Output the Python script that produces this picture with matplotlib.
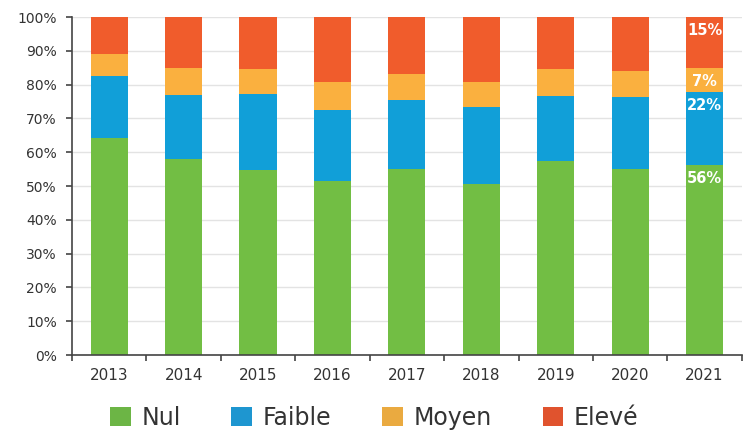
import matplotlib
matplotlib.use("Agg")
import matplotlib.pyplot as plt
from matplotlib.patches import Patch
from matplotlib.ticker import MultipleLocator, FuncFormatter
import numpy as np

plt.rcParams['font.family'] = ['DejaVu Sans']

years = ['2013', '2014', '2015', '2016', '2017', '2018', '2019', '2020', '2021']
nul    = [64.3, 57.9, 54.8, 51.4, 55.0, 50.6, 57.3, 54.9, 56.2]
faible = [18.2, 18.9, 22.3, 21.1, 20.5, 22.7, 19.3, 21.4, 21.7]
moyen  = [6.6, 8.0, 7.5, 8.3, 7.5, 7.6, 8.1, 7.7, 7.0]
eleve  = [10.9, 15.2, 15.4, 19.2, 17.0, 19.1, 15.3, 16.0, 15.1]
series_names = ['Nul', 'Faible', 'Moyen', 'Elevé']
labels_2021 = ['56%', '22%', '7%', '15%']

bar_colors = ['#72BE44', '#119FD8', '#FAB03F', '#F05C2C']
legend_colors = ['#6CB545', '#1E96D0', '#EAAA40', '#E0532E']

fig = plt.figure(figsize=(7.5, 4.3), dpi=100)
ax = fig.add_axes([0.096, 0.1744, 0.893, 0.786])

x = np.arange(len(years))
series = [nul, faible, moyen, eleve]
bottom = np.zeros(len(years))
for vals, col in zip(series, bar_colors):
    ax.bar(x, vals, bottom=bottom, width=0.5, color=col, zorder=2)
    bottom = bottom + np.array(vals)

# labels on last bar
last = len(years) - 1
cum = 0.0
for vals, lab in zip(series, labels_2021):
    cum += vals[last]
    ax.annotate(lab, xy=(x[last], cum), xytext=(0, -10), textcoords='offset points',
                ha='center', va='center', color='white', fontsize=10.5, fontweight='bold', zorder=3)

ax.set_xlim(-0.5, len(years) - 0.5)
ax.set_ylim(0, 100)
ax.yaxis.set_major_locator(MultipleLocator(10))
ax.yaxis.set_major_formatter(FuncFormatter(lambda v, p: f"{int(round(v))}%"))
ax.grid(axis='y', color='#e3e3e3', linewidth=1, zorder=0)
ax.set_axisbelow(True)

ax.set_xticks(x)
ax.set_xticklabels(years)
ax.set_xticks(np.arange(-0.5, len(years), 1.0), minor=True)
ax.tick_params(axis='x', which='major', length=0, pad=9, labelsize=11, labelcolor='#333333')
ax.tick_params(axis='x', which='minor', length=4, width=1.2, color='#444444', direction='out')
ax.tick_params(axis='y', length=4, width=1.2, color='#444444', pad=7, labelsize=10, labelcolor='#333333')

for s in ['top', 'right']:
    ax.spines[s].set_visible(False)
for s in ['left', 'bottom']:
    ax.spines[s].set_color('#444444')
    ax.spines[s].set_linewidth(1.2)

handles = [Patch(facecolor=c, edgecolor='none') for c in legend_colors]
fig.legend(handles, series_names, loc='center', bbox_to_anchor=(0.499, 0.028), ncol=4,
           frameon=False, fontsize=17, handlelength=0.88, handleheight=0.85,
           handletextpad=0.45, columnspacing=2.15, labelcolor='#333333')

fig.savefig('out.png', dpi=100)
